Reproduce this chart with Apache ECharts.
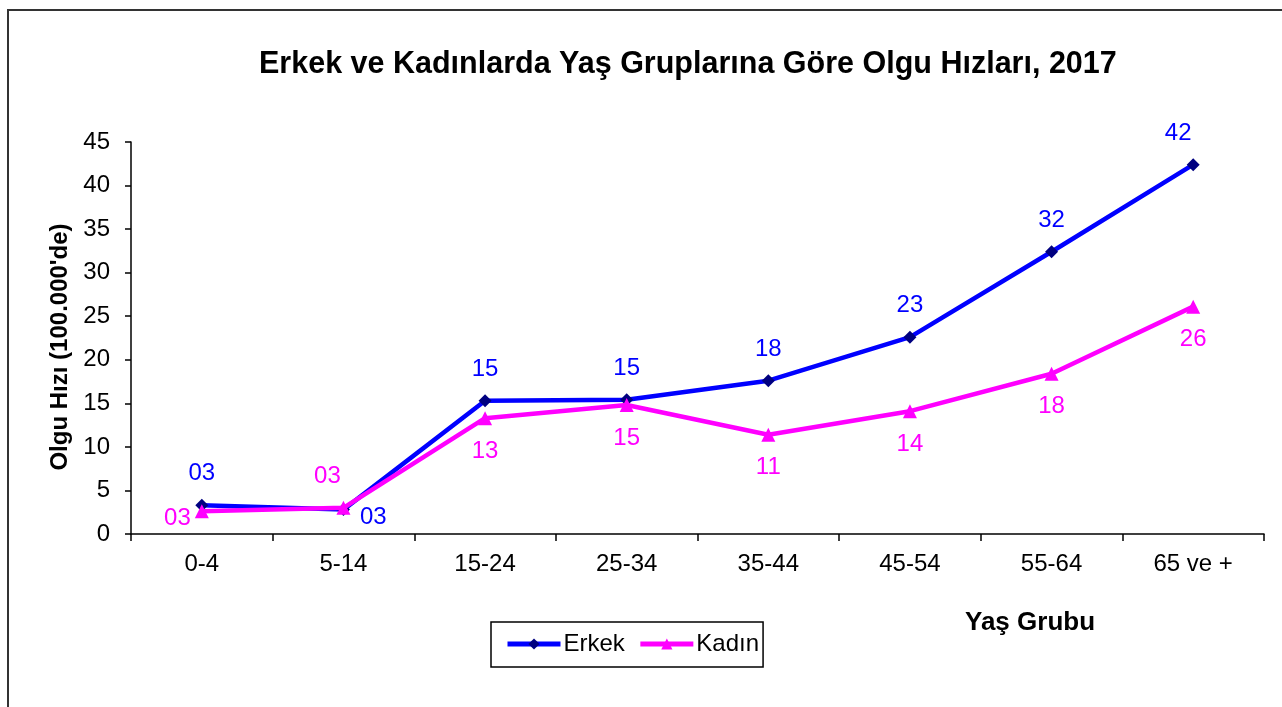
<!DOCTYPE html>
<html>
<head>
<meta charset="utf-8">
<script src="https://cdn.jsdelivr.net/npm/echarts@6/dist/echarts.min.js"></script>
<style>
	html, body { margin: 0; padding: 0; background: #fff; }
	#chart { width: 1282px; height: 707px; }
</style>
</head>
<body>
<div id="chart"></div>
<script>
	// yas gruplari ve hizlar (100.000'de)
	var yasGruplari = ['0-4', '5-14', '15-24', '25-34', '35-44', '45-54', '55-64', '65 ve +'];
	var erkek = [3.3, 2.8, 15.3, 15.4, 17.6, 22.6, 32.4, 42.4];
	var kadin = [2.6, 3.0, 13.3, 14.8, 11.4, 14.1, 18.4, 26.1];

	var font = '"Liberation Sans", Arial, sans-serif';

	function ikiHane(p) {
		var v = Math.round(p.value);
		return (v < 10 ? '0' : '') + v;
	}

	// etiket konumlari, resimdeki gibi
	var erkekData = erkek.map(function (v, i) {
		var d = { value: v };
		if (i === 1) d.label = { position: 'right', distance: 10, offset: [0, 8] };
		if (i === 7) d.label = { offset: [-15, 0] };
		return d;
	});
	var kadinData = kadin.map(function (v, i) {
		var d = { value: v };
		if (i === 0) d.label = { position: 'left', distance: 4, offset: [0, 7] };
		if (i === 1) d.label = { position: 'top', distance: 12, offset: [-16, 0] };
		return d;
	});

	var myChart = echarts.init(document.getElementById('chart'));
	var option = {
		animation: false,
		textStyle: { fontFamily: font },
		title: [
			{
				text: 'Erkek ve Kadınlarda Yaş Gruplarına Göre Olgu Hızları, 2017',
				left: 254,
				top: 44,
				textStyle: { fontSize: 30.5, fontWeight: 'bold', color: '#000', fontFamily: font }
			},
			{
				text: 'Yaş Grubu',
				left: 960,
				top: 605,
				textStyle: { fontSize: 26, fontWeight: 'bold', color: '#000', fontFamily: font }
			}
		],
		graphic: [
			{
				type: 'rect',
				shape: { x: 8, y: 10, width: 1300, height: 720 },
				style: { fill: 'none', stroke: '#333', lineWidth: 2 },
				silent: true
			}
		],
		legend: {
			left: 491,
			top: 622,
			padding: [10, 4, 11, 14],
			itemGap: 13,
			itemWidth: 53,
			itemHeight: 14,
			borderColor: '#000',
			borderWidth: 1.5,
			lineStyle: { width: 5 },
			textStyle: { fontSize: 24, color: '#000', fontFamily: font, padding: [0, 0, 0, -2] },
			data: ['Erkek', 'Kadın']
		},
		grid: {
			left: 131,
			right: 18,
			top: 142,
			bottom: 173,
			containLabel: false
		},
		xAxis: {
			type: 'category',
			data: yasGruplari,
			boundaryGap: true,
			axisLine: { lineStyle: { color: '#000', width: 1.5 } },
			axisTick: { show: true, length: 7, lineStyle: { color: '#000', width: 1.5 } },
			axisLabel: { fontSize: 24, color: '#000', margin: 18, fontFamily: font },
			splitLine: { show: false }
		},
		yAxis: {
			type: 'value',
			min: 0,
			max: 45,
			interval: 5,
			name: "Olgu Hızı (100.000'de)",
			nameLocation: 'middle',
			nameGap: 57,
			nameRotate: 90,
			nameTextStyle: { fontSize: 24, fontWeight: 'bold', color: '#000', fontFamily: font, padding: [0, 18, 0, 0] },
			axisLine: { show: true, lineStyle: { color: '#000', width: 1.5 } },
			axisTick: { show: true, length: 6, lineStyle: { color: '#000', width: 1.5 } },
			axisLabel: { fontSize: 24, color: '#000', margin: 21, fontFamily: font },
			splitLine: { show: false }
		},
		series: [
			{
				name: 'Erkek',
				type: 'line',
				data: erkekData,
				symbol: 'diamond',
				symbolSize: 13,
				lineStyle: { color: '#0000ff', width: 4.5 },
				itemStyle: { color: '#000080' },
				label: {
					show: true,
					position: 'top',
					distance: 13,
					formatter: ikiHane,
					fontSize: 24,
					color: '#0000ff',
					fontFamily: font
				},
				z: 2
			},
			{
				name: 'Kadın',
				type: 'line',
				data: kadinData,
				symbol: 'triangle',
				symbolSize: 14,
				lineStyle: { color: '#ff00ff', width: 4.5 },
				itemStyle: { color: '#ff00ff' },
				label: {
					show: true,
					position: 'bottom',
					distance: 14,
					formatter: ikiHane,
					fontSize: 24,
					color: '#ff00ff',
					fontFamily: font
				},
				z: 3
			}
		]
	};

	option && myChart.setOption(option);
</script>
</body>
</html>
